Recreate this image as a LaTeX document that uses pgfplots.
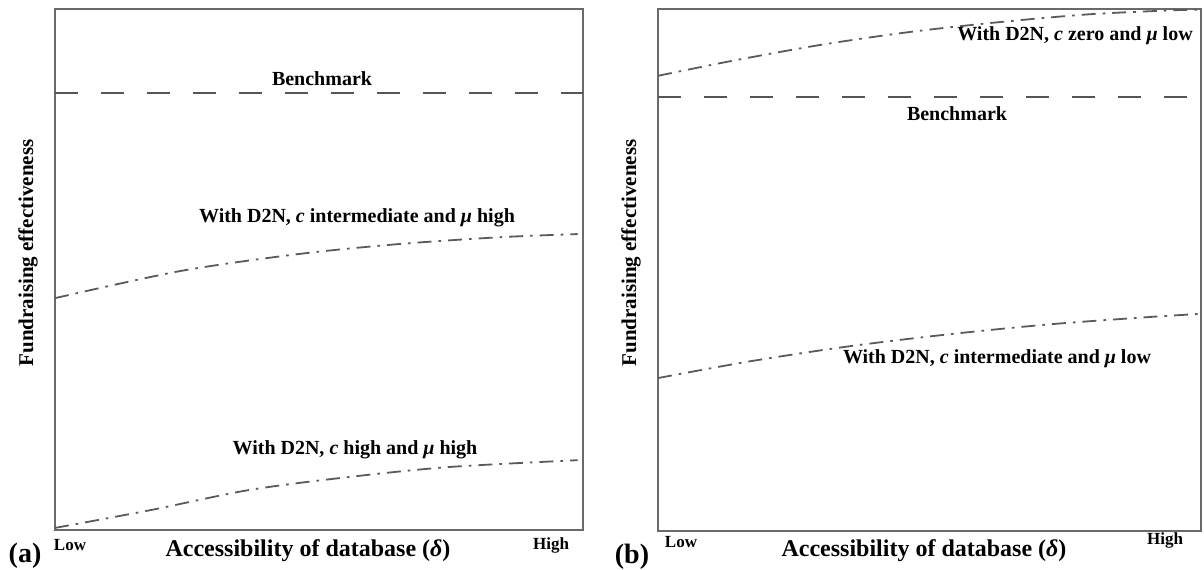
\documentclass[border=0pt]{standalone}
\usepackage{fontspec}
\setmainfont{Liberation Serif}
\usepackage{pgfplots}
\pgfplotsset{compat=1.18}
\definecolor{frame}{HTML}{6A6A6A}
\definecolor{dashc}{HTML}{555555}
\definecolor{curve}{HTML}{5A5A5A}
\pgfplotsset{
  panel/.style={
    scale only axis, anchor=south west,
    xmin=0, xmax=1, ymin=0, ymax=1,
    xtick=\empty, ytick=\empty,
    axis line style={frame, line width=1pt},
  },
  bench/.style={dashc, line width=1pt, dash pattern=on 11.5pt off 11.5pt},
  dd/.style={curve, line width=0.9pt, smooth, dash pattern=on 7pt off 3.5pt on 1.3pt off 3.5pt},
}
\newcommand\lab{\fontsize{10}{12}\selectfont\bfseries}
\newcommand\biglab{\fontsize{12}{14}\selectfont\bfseries}
\newcommand\ylab{\fontsize{10.5}{12}\selectfont\bfseries}
\begin{document}
\begin{tikzpicture}
\useasboundingbox (0,0) rectangle (602pt,284.5pt);
\begin{axis}[panel, at={(27.5pt,19.5pt)}, width=264pt, height=260.5pt]
\addplot[bench] coordinates {(0,0.839) (1,0.839)};
\addplot[dd] coordinates {(0,0.445) (0.237,0.497) (0.464,0.530) (0.653,0.549) (0.843,0.562) (0.99,0.568)};
\addplot[dd] coordinates {(0,0.004) (0.18,0.038) (0.369,0.077) (0.559,0.102) (0.748,0.121) (0.99,0.134)};
\end{axis}
\begin{axis}[panel, at={(329pt,19pt)}, width=271.5pt, height=261pt]
\addplot[bench] coordinates {(0,0.831) (1,0.831)};
\addplot[dd] coordinates {(0,0.872) (0.133,0.900) (0.298,0.931) (0.464,0.956) (0.630,0.975) (0.796,0.990) (0.961,0.998) (1,0.998)};
\addplot[dd] coordinates {(0,0.293) (0.169,0.325) (0.353,0.354) (0.537,0.377) (0.722,0.396) (0.906,0.410) (1,0.416)};
\end{axis}
% in-panel labels
\node[font=\lab] at (161pt,245pt) {Benchmark};
\node[font=\lab] at (178.5pt,175.5pt) {With D2N, \textit{c} intermediate and \textit{μ} high};
\node[font=\lab] at (177.5pt,59.5pt) {With D2N, \textit{c} high and \textit{μ} high};
\node[font=\lab] at (537.5pt,266.5pt) {With D2N, \textit{c} zero and \textit{μ} low};
\node[font=\lab] at (478.5pt,227.5pt) {Benchmark};
\node[font=\lab] at (498.5pt,105pt) {With D2N, \textit{c} intermediate and \textit{μ} low};
% axis labels
\node[font=\biglab] at (154pt,9pt) {Accessibility of database (\textit{δ})};
\node[font=\biglab] at (462pt,9pt) {Accessibility of database (\textit{δ})};
\node[font=\ylab, rotate=90] at (14pt,158pt) {Fundraising effectiveness};
\node[font=\ylab, rotate=90] at (315.5pt,158pt) {Fundraising effectiveness};
\node[font=\fontsize{8.5}{10}\selectfont\bfseries] at (35pt,12pt) {Low};
\node[font=\fontsize{8.5}{10}\selectfont\bfseries] at (275.5pt,12pt) {High};
\node[font=\fontsize{8.5}{10}\selectfont\bfseries] at (340.5pt,13.5pt) {Low};
\node[font=\fontsize{8.5}{10}\selectfont\bfseries] at (582.5pt,14.5pt) {High};
\node[font=\fontsize{14}{16}\selectfont\bfseries] at (12.5pt,6.5pt) {(a)};
\node[font=\fontsize{14}{16}\selectfont\bfseries] at (316pt,6pt) {(b)};
\end{tikzpicture}
\end{document}
